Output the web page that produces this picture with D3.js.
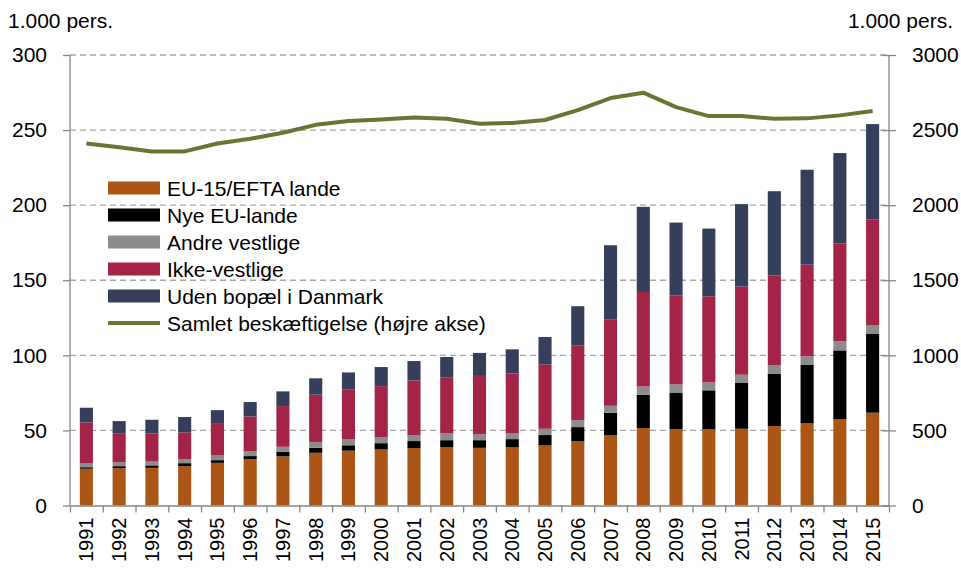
<!DOCTYPE html>
<html>
<head>
<meta charset="utf-8">
<script src="https://cdn.jsdelivr.net/npm/d3@7"></script>
<style>
  body { margin: 0; background: #fff; }
  svg text { font-family: "Liberation Sans", Arial, sans-serif; fill: #000; }
</style>
</head>
<body>
<div id="chart"></div>
<script>
// Data (1.000 pers.)
const YEARS = ["1991","1992","1993","1994","1995","1996","1997","1998","1999","2000","2001","2002","2003",
               "2004","2005","2006","2007","2008","2009","2010","2011","2012","2013","2014","2015"];
const EU15 =      [24.5, 24.9, 25.1, 26.2, 28.4, 30.9, 32.7, 35.1, 36.5, 37.3, 38.2, 38.9, 38.4,
                   38.7, 40.0, 42.7, 46.7, 51.6, 50.9, 50.7, 51.1, 52.9, 54.7, 57.6, 61.8];
const NYE_EU =    [1.0, 1.3, 1.6, 2.0, 1.8, 2.0, 3.1, 3.3, 3.6, 4.2, 4.7, 4.6, 5.1,
                   5.5, 6.9, 9.5, 15.1, 22.2, 24.0, 26.0, 30.5, 34.7, 39.1, 45.7, 52.4];
const ANDRE =     [2.5, 2.7, 2.6, 2.5, 3.1, 3.3, 3.3, 3.8, 3.9, 3.8, 3.8, 4.5, 4.0,
                   3.8, 4.2, 4.7, 4.6, 5.5, 5.8, 5.3, 5.5, 5.7, 5.5, 6.0, 6.0];
const IKKE_VEST = [27.3, 18.9, 18.7, 18.0, 21.1, 23.1, 27.1, 31.6, 33.1, 34.2, 36.6, 37.1, 39.4,
                   40.0, 42.9, 49.5, 57.6, 62.9, 59.1, 57.3, 58.7, 59.8, 61.1, 65.1, 70.2];
const UDEN_BOPAEL = [9.8, 8.4, 9.1, 10.2, 9.1, 9.6, 9.8, 10.9, 11.5, 12.7, 12.9, 13.8, 14.7,
                   16.0, 18.2, 26.3, 49.3, 56.7, 48.6, 45.1, 54.9, 56.2, 63.2, 60.3, 63.6];
const SAMLET =    [2411, 2385, 2358, 2358, 2411, 2442, 2482, 2535, 2560, 2571, 2584, 2575, 2542,
                   2547, 2567, 2633, 2713, 2749, 2653, 2593, 2593, 2575, 2578, 2598, 2627];

const SERIES = ["EU-15/EFTA lande", "Nye EU-lande", "Andre vestlige", "Ikke-vestlige", "Uden bopæl i Danmark"];
const LINE_LABEL = "Samlet beskæftigelse (højre akse)";
const COLORS = ["#ab5616", "#000000", "#8c8c8c", "#a32447", "#353e5a"];
const LINE_COLOR = "#6a7433";
const LEFT_TICKS = [0, 50, 100, 150, 200, 250, 300];
const RIGHT_TICKS = [0, 500, 1000, 1500, 2000, 2500, 3000];

// Frame
const WIDTH = 961, HEIGHT = 568;
const PLOT = {left: 70, right: 889, top: 55, bottom: 505.5};

const svg = d3.select("#chart").append("svg")
    .attr("width", WIDTH)
    .attr("height", HEIGHT);

const x = d3.scaleBand()
    .domain(YEARS)
    .range([PLOT.left, PLOT.right])
    .paddingInner(0.6)
    .paddingOuter(0.3);

const yL = d3.scaleLinear().domain([0, 300]).range([PLOT.bottom, PLOT.top]);
const yR = d3.scaleLinear().domain([0, 3000]).range([PLOT.bottom, PLOT.top]);

// Gridlines
svg.append("g")
  .selectAll("line")
  .data(LEFT_TICKS.slice(1))
  .enter().append("line")
    .attr("x1", PLOT.left).attr("x2", PLOT.right)
    .attr("y1", d => yL(d)).attr("y2", d => yL(d))
    .attr("stroke", "#a6a6a6")
    .attr("stroke-width", 1.3)
    .attr("stroke-dasharray", "6,4");

// Stacked bars
const rows = YEARS.map((yr, i) => ({
  year: yr,
  s0: EU15[i], s1: NYE_EU[i], s2: ANDRE[i], s3: IKKE_VEST[i], s4: UDEN_BOPAEL[i]
}));
const stack = d3.stack().keys(["s0", "s1", "s2", "s3", "s4"])(rows);

svg.append("g")
  .selectAll("g")
  .data(stack)
  .enter().append("g")
    .attr("fill", (d, i) => COLORS[i])
  .selectAll("rect")
  .data(d => d)
  .enter().append("rect")
    .attr("x", d => x(d.data.year))
    .attr("width", x.bandwidth())
    .attr("y", d => yL(d[1]))
    .attr("height", d => yL(d[0]) - yL(d[1]));

// Axes
const AXIS_COLOR = "#868686";

const bounds = d3.scaleLinear().domain([0, YEARS.length]).range([PLOT.left, PLOT.right]);
const xAxis = svg.append("g")
    .attr("transform", "translate(0," + PLOT.bottom + ")")
    .call(d3.axisBottom(bounds).tickValues(d3.range(YEARS.length + 1)).tickFormat("").tickSizeInner(7).tickSizeOuter(0));
xAxis.selectAll("line, path").attr("stroke", AXIS_COLOR).attr("stroke-width", 1.3);

const leftAxis = svg.append("g")
    .attr("transform", "translate(" + PLOT.left + ",0)")
    .call(d3.axisLeft(yL).tickValues(LEFT_TICKS).tickSizeInner(7).tickSizeOuter(0).tickPadding(16));
leftAxis.selectAll("line, path").attr("stroke", AXIS_COLOR).attr("stroke-width", 1.3);
leftAxis.selectAll("text").attr("font-size", "21px").attr("font-family", "Liberation Sans, Arial, sans-serif").attr("fill", "#000");

const rightAxis = svg.append("g")
    .attr("transform", "translate(" + PLOT.right + ",0)")
    .call(d3.axisRight(yR).tickValues(RIGHT_TICKS).tickFormat(d3.format("d")).tickSizeInner(7).tickSizeOuter(0).tickPadding(16));
rightAxis.selectAll("line, path").attr("stroke", AXIS_COLOR).attr("stroke-width", 1.3);
rightAxis.selectAll(".tick line").attr("x1", -7);
rightAxis.selectAll("text").attr("x", 23).attr("font-size", "21px").attr("font-family", "Liberation Sans, Arial, sans-serif").attr("fill", "#000");

leftAxis.select(".domain").attr("d", "M0," + PLOT.top + "V" + PLOT.bottom);
rightAxis.select(".domain").attr("d", "M0," + PLOT.top + "V" + PLOT.bottom);

// Year labels
svg.append("g")
  .selectAll("text")
  .data(YEARS)
  .enter().append("text")
    .attr("transform", d => "translate(" + (x(d) + x.bandwidth() / 2 + 7) + "," + (PLOT.bottom + 12) + ") rotate(-90)")
    .attr("text-anchor", "end")
    .attr("font-size", "20px")
    .text(d => d);

// Line (right axis)
const line = d3.line()
    .x((d, i) => x(YEARS[i]) + x.bandwidth() / 2)
    .y(d => yR(d));

svg.append("path")
    .datum(SAMLET)
    .attr("d", line)
    .attr("fill", "none")
    .attr("stroke", LINE_COLOR)
    .attr("stroke-width", 4)
    .attr("stroke-linejoin", "round");

// Unit titles
svg.append("text").attr("x", 8).attr("y", 28).attr("font-size", "21px").text("1.000 pers.");
svg.append("text").attr("x", 953).attr("y", 28).attr("font-size", "21px").attr("text-anchor", "end").text("1.000 pers.");

// Legend
const LEG_X = 108, LEG_Y = 188, LEG_STEP = 27;
const legend = svg.append("g");
SERIES.forEach((name, i) => {
  legend.append("rect")
    .attr("x", LEG_X).attr("y", LEG_Y + i * LEG_STEP - 6.5)
    .attr("width", 52).attr("height", 13)
    .attr("fill", COLORS[i]);
  legend.append("text")
    .attr("x", LEG_X + 59).attr("y", LEG_Y + i * LEG_STEP + 7.5)
    .attr("font-size", "21px")
    .text(name);
});
legend.append("line")
  .attr("x1", LEG_X).attr("x2", LEG_X + 52)
  .attr("y1", LEG_Y + 5 * LEG_STEP).attr("y2", LEG_Y + 5 * LEG_STEP)
  .attr("stroke", LINE_COLOR).attr("stroke-width", 4);
legend.append("text")
  .attr("x", LEG_X + 59).attr("y", LEG_Y + 5 * LEG_STEP + 7.5)
  .attr("font-size", "21px")
  .text(LINE_LABEL);
</script>
</body>
</html>
